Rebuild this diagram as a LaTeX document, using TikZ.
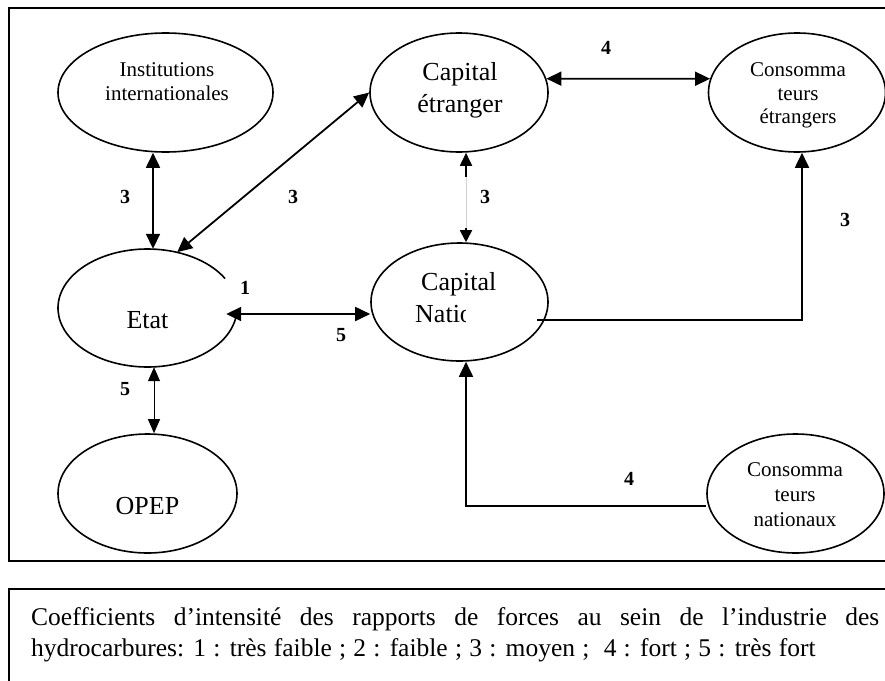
\documentclass[tikz,border=0pt]{standalone}
\usepackage{fontspec}
\setmainfont{Liberation Serif}
\usetikzlibrary{shapes.geometric,arrows.meta,calc}
\begin{document}
\begin{tikzpicture}[x=1pt,y=-1pt,
  ell/.style={ellipse, draw, line width=1.6pt, inner sep=0pt},
  big/.style={font=\fontsize{26}{32}\selectfont, inner sep=0pt, align=center},
  small/.style={font=\fontsize{21}{23.5}\selectfont, inner sep=0pt, align=center},
  num/.style={font=\fontsize{20}{20}\selectfont\bfseries, inner sep=0pt},
  conn/.style={line width=1.8pt, {Triangle[length=15pt,width=14pt]}-{Triangle[length=15pt,width=14pt]}},
  midconn/.style={line width=1.8pt, {Triangle[length=13pt,width=12pt]}-{Triangle[length=12pt,width=12pt]}},
  oneway/.style={line width=1.8pt, -{Triangle[length=15pt,width=14pt]}},
  thinconn/.style={line width=1pt, {Triangle[length=14pt,width=12pt]}-{Triangle[length=14pt,width=12pt]}},
  frame/.style={line width=2pt}
]
\useasboundingbox (0,0) rectangle (885,680);
\clip (0,0) rectangle (885,680);

% frames
\draw[frame] (9,8) rectangle (900,561);
\draw[frame] (9,589) rectangle (900,720);

% ellipses
\node[ell, minimum width=215, minimum height=119] (inst) at (165.5,92.5) {};
\node[ell, minimum width=178, minimum height=119] (capE) at (459,92.5) {};
\node[ell, minimum width=177, minimum height=119] (consoE) at (797,92.5) {};
\node[ellipse, inner sep=0pt, minimum width=179, minimum height=118] (etat) at (147.5,308) {};
\draw[line width=1.6pt] ([shift={(8.6:89.5 and 59)}]etat.center) arc[start angle=8.6, end angle=330, x radius=89.5, y radius=59];
\node[ell, minimum width=177, minimum height=118] (capN) at (459.5,302) {};
\node[ell, minimum width=179, minimum height=119] (opep) at (147.5,493.5) {};
\node[ell, minimum width=177, minimum height=119] (consoN) at (795.5,493.5) {};

% texts
\node[small] (instT) at (167,81.5) {Institutions\\internationales};
\node[big] (capET) at (460,90) {Capital\\étranger};
\node[small] (consoET) at (798,95.6) {Consomma\\teurs\\étrangers};
\node[small, font=\fontsize{21}{25}\selectfont] (consoNT) at (795,494.8) {Consomma\\teurs\\nationaux};
\node[big, anchor=base] (etatT) at (147.5,328) {Etat};
\node[big, anchor=base] (opepT) at (147.5,514) {OPEP};
\node[big, anchor=base west] (capN1) at (421,290) {Capital};
\begin{scope}
  \clip (400,300) rectangle (465,335);
  \node[big, anchor=base west] (capN2) at (415,322) {Natio};
\end{scope}

% connectors
\draw[conn] (153,0 |- inst.south) -- (153,0 |- etat.north);
\draw[conn] (etat.62) -- (capE.west);
\draw[conn] (capE.9) -- (consoE.171.5);
\coordinate (ce1) at (466,177);
\coordinate (ce2) at (466,228);
\draw[midconn] (466,0 |- capE.south) -- (466,0 |- capN.north);
\draw[white, line width=2.6pt] (ce1) -- (ce2);
\draw[black!18, line width=0.7pt] (ce1) -- (ce2);
\draw[conn] ($(etat.east)+(-11,6)$) -- (capN.west |- 0,314);
\draw[oneway] ($(capN.center)+(77.5,18)$) -| (802,0 |- consoE.south);
\draw[oneway] (consoN.west |- 0,506) -| (466,0 |- capN.south);
\draw[thinconn] (154,0 |- etat.south) -- (154,0 |- opep.north);

% labels
\node[num] (l1) at (125,197) {3};
\node[num] (l2) at (293,197) {3};
\node[num] (l3) at (606,48) {4};
\node[num] (l4) at (485,197) {3};
\node[num] (l5) at (845,220) {3};
\node[num] (l6) at (245,288) {1};
\node[num] (l7) at (341,335) {5};
\node[num] (l8) at (125,389) {5};
\node[num] (l9) at (629,479) {4};

% legend
\node[anchor=north west, inner sep=0pt, text width=848pt, align=justify,
      font=\fontsize{25.5}{31}\selectfont] (legend) at (31,607)
  {Coefficients d’intensité des rapports de forces au sein de l’industrie des\linebreak
   {\spaceskip=7.2pt plus 2pt minus 1pt hydrocarbures: 1 : très faible ; 2 : faible ; 3 : moyen ; ~4 : fort ; 5 : très fort}};
\end{tikzpicture}
\end{document}
